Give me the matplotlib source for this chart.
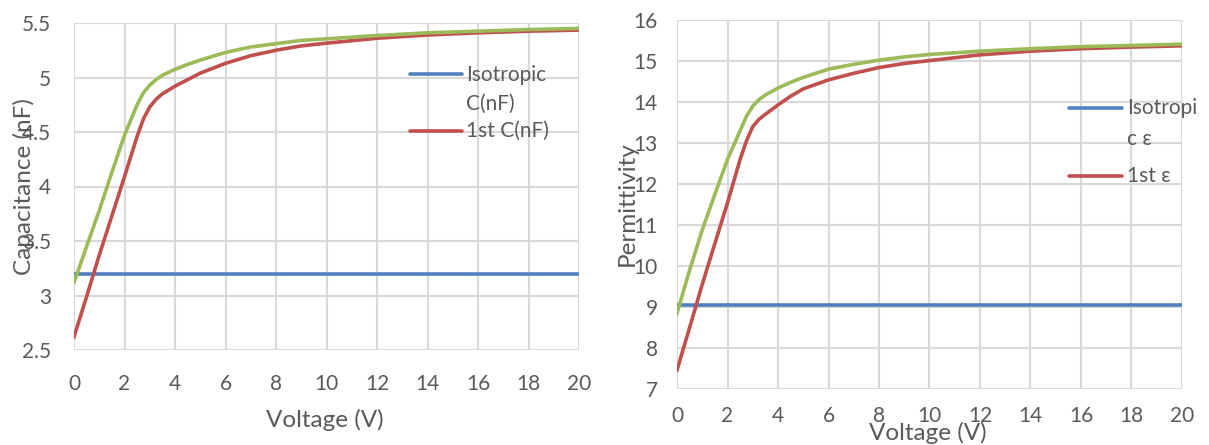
import matplotlib
matplotlib.use("Agg")
import matplotlib.pyplot as plt
from matplotlib.lines import Line2D

plt.rcParams['font.family'] = ['Lato', 'DejaVu Sans']

voltage = [0, 0.5, 1, 1.5, 2, 2.5, 2.75, 3, 3.25, 3.5, 4, 4.5, 5, 6, 7, 8, 9, 10, 12, 14, 16, 18, 20]

# Left panel: capacitance (nF)
cap_isotropic = [3.2] * len(voltage)
cap_1st = [2.62, 2.99, 3.37, 3.73, 4.09, 4.46, 4.62, 4.73, 4.80, 4.85, 4.92, 4.98, 5.04,
           5.13, 5.20, 5.25, 5.29, 5.315, 5.36, 5.39, 5.41, 5.425, 5.435]
cap_green = [3.12, 3.45, 3.78, 4.13, 4.47, 4.75, 4.86, 4.93, 4.98, 5.02, 5.075, 5.12, 5.16,
             5.23, 5.28, 5.31, 5.34, 5.355, 5.385, 5.41, 5.425, 5.44, 5.45]

# Right panel: permittivity
eps_isotropic = [9.05] * len(voltage)
eps_1st = [7.46, 8.5, 9.55, 10.55, 11.54, 12.6, 13.05, 13.4, 13.58, 13.7, 13.93, 14.14, 14.32,
           14.54, 14.7, 14.84, 14.94, 15.01, 15.15, 15.24, 15.3, 15.34, 15.37]
eps_green = [8.85, 9.9, 10.88, 11.75, 12.6, 13.3, 13.65, 13.9, 14.06, 14.17, 14.34, 14.48, 14.6,
             14.8, 14.92, 15.02, 15.1, 15.16, 15.24, 15.3, 15.35, 15.38, 15.41]

x_ticks = list(range(0, 21, 2))
cap_ticks = [2.5, 3, 3.5, 4, 4.5, 5, 5.5]
cap_tick_labels = ['2.5', '3', '3.5', '4', '4.5', '5', '5.5']
eps_ticks = list(range(7, 17))

BLUE = '#4F81BD'
RED = '#C0504D'
GREEN = '#9BBB59'
GRID = '#D9D9D9'
TXT = '#595959'

W, H = 1209, 445
fig = plt.figure(figsize=(W / 100, H / 100), dpi=100)
T = fig.transFigure


def fx(px):
    return px / W


def fy(py):
    return (H - py) / H


def px_axes(x0, x1, ytop, ybot):
    return fig.add_axes([x0 / W, (H - ybot) / H, (x1 - x0) / W, (ybot - ytop) / H])


FS = 15
LFS = 17.5


def style(ax, yticks, ylabels, ylim, ypad, xpad):
    ax.set_xlim(0, 20)
    ax.set_ylim(*ylim)
    ax.set_xticks(x_ticks)
    ax.set_yticks(yticks)
    ax.set_yticklabels(ylabels)
    ax.grid(True, color=GRID, linewidth=1.5, zorder=0)
    ax.set_axisbelow(True)
    for s in ax.spines.values():
        s.set_visible(False)
    ax.tick_params(axis='both', length=0, labelsize=FS, colors=TXT)
    ax.tick_params(axis='y', pad=ypad)
    ax.tick_params(axis='x', pad=xpad)


lw = 2.6

# Left panel
ax1 = px_axes(74, 579, 23, 350)
style(ax1, cap_ticks, cap_tick_labels, (2.5, 5.5), 16.5, 17)
ax1.plot(voltage, cap_isotropic, color=BLUE, lw=lw, solid_capstyle='butt', zorder=3)
ax1.plot(voltage, cap_1st, color=RED, lw=lw, zorder=3)
ax1.plot(voltage, cap_green, color=GREEN, lw=lw, zorder=4)
fig.text(fx(325), fy(420), 'Voltage (V)', fontsize=LFS, color=TXT, ha='center', va='center')
fig.text(fx(24), fy(187), 'Capacitance (nF)', fontsize=LFS, color=TXT, ha='center',
         va='center', rotation=90)

# legend (left)
fig.add_artist(Line2D([fx(410), fx(462)], [fy(74)] * 2, color=BLUE, lw=lw,
                      solid_capstyle='round', transform=T))
fig.add_artist(Line2D([fx(410), fx(462)], [fy(131)] * 2, color=RED, lw=lw,
                      solid_capstyle='round', transform=T))
fig.text(fx(466), fy(75), 'Isotropic', fontsize=FS, color=TXT, va='center')
fig.text(fx(466), fy(104), 'C(nF)', fontsize=FS, color=TXT, va='center')
fig.text(fx(466), fy(131), '1st C(nF)', fontsize=FS, color=TXT, va='center')

# Right panel
ax2 = px_axes(677, 1182, 20, 389)
style(ax2, eps_ticks, [str(t) for t in eps_ticks], (7, 16), 14, 12)
ax2.plot(voltage, eps_isotropic, color=BLUE, lw=lw, solid_capstyle='butt', zorder=3)
ax2.plot(voltage, eps_1st, color=RED, lw=lw, zorder=3)
ax2.plot(voltage, eps_green, color=GREEN, lw=lw, zorder=4)
fig.text(fx(928), fy(433), 'Voltage (V)', fontsize=LFS, color=TXT, ha='center', va='center')
fig.text(fx(627), fy(204), 'Permittivity', fontsize=LFS, color=TXT, ha='center',
         va='center', rotation=90)

# legend (right)
fig.add_artist(Line2D([fx(1069), fx(1122)], [fy(108)] * 2, color=BLUE, lw=lw,
                      solid_capstyle='round', transform=T))
fig.add_artist(Line2D([fx(1069), fx(1122)], [fy(176)] * 2, color=RED, lw=lw,
                      solid_capstyle='round', transform=T))
fig.text(fx(1127), fy(108), 'Isotropi', fontsize=FS, color=TXT, va='center')
fig.text(fx(1127), fy(139), 'c ε', fontsize=FS, color=TXT, va='center')
fig.text(fx(1127), fy(176), '1st ε', fontsize=FS, color=TXT, va='center')

fig.savefig('out.png', dpi=100)
